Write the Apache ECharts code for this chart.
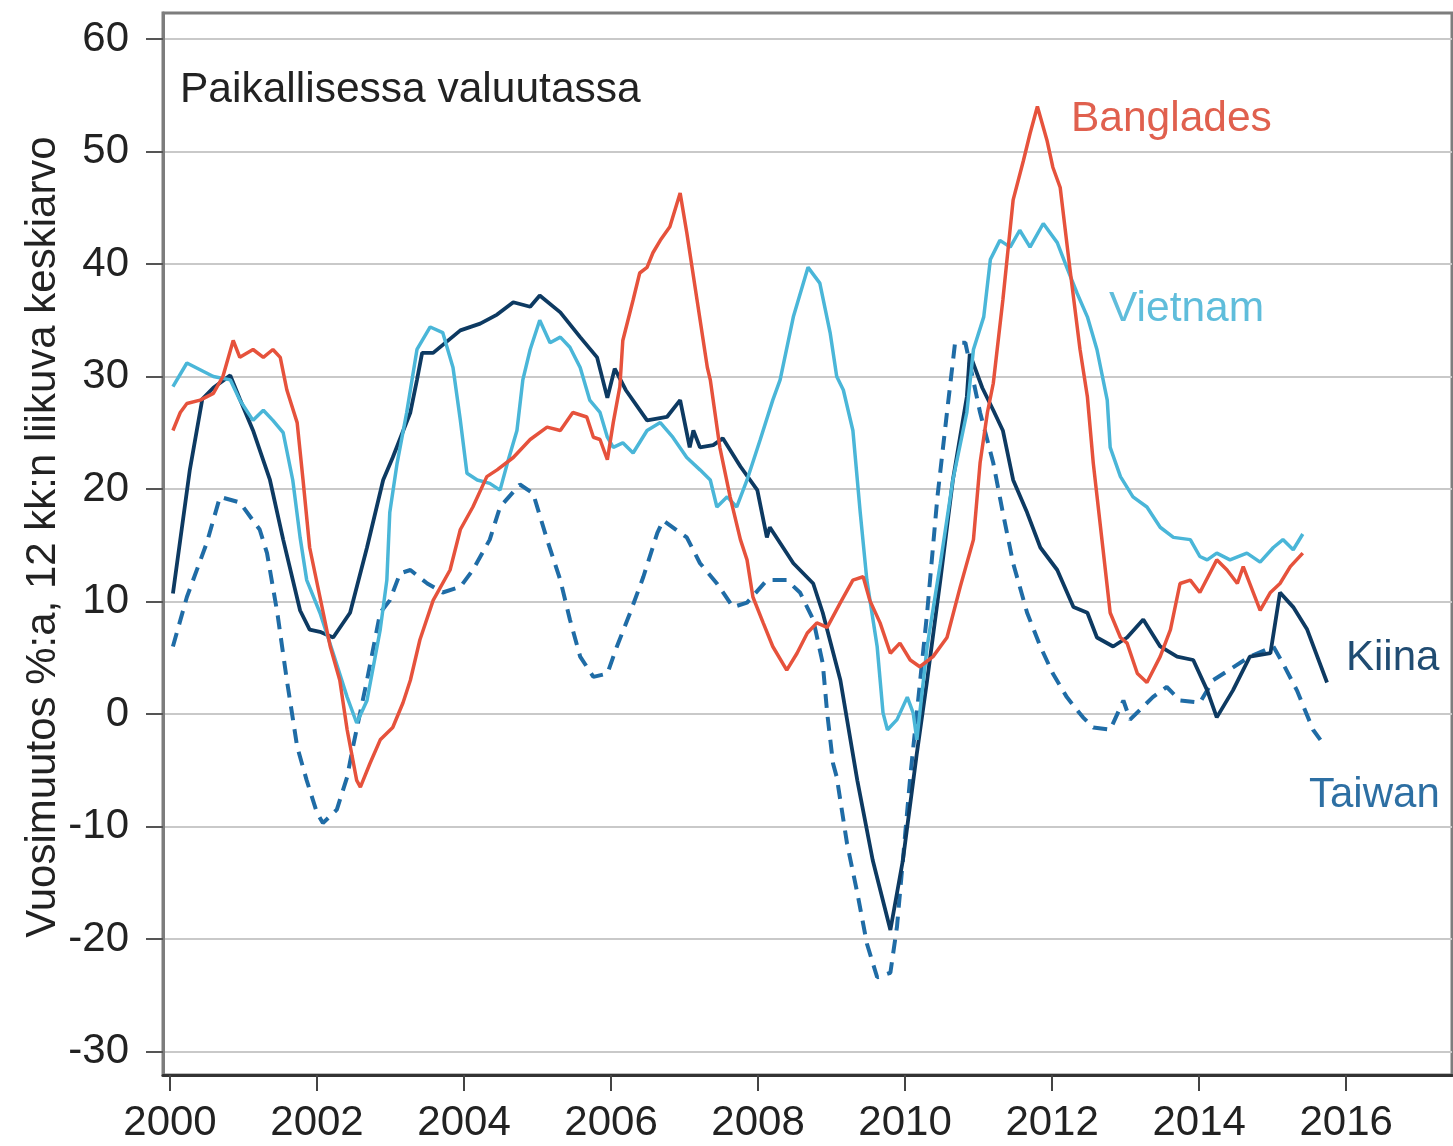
<!DOCTYPE html>
<html>
<head>
<meta charset="utf-8">
<script src="https://cdn.jsdelivr.net/npm/echarts@6/dist/echarts.min.js"></script>
<style>
html,body{margin:0;padding:0;background:#fff;}
#chart{width:1453px;height:1146px;}
</style>
</head>
<body>
<div id="chart"></div>
<script>
// ---- Data (year, % change) ----
const xTicks = [2000, 2002, 2004, 2006, 2008, 2010, 2012, 2014, 2016];
const yTicks = [-30, -20, -10, 0, 10, 20, 30, 40, 50, 60];

const kiina = [[2000.04,10.7],[2000.27,21.7],[2000.44,28.0],[2000.59,29.0],[2000.82,30.1],[2000.95,28.0],[2001.13,25.2],[2001.36,20.8],[2001.54,15.5],[2001.77,9.2],[2001.90,7.5],[2002.04,7.3],[2002.22,6.8],[2002.45,9.0],[2002.68,14.8],[2002.90,20.8],[2003.03,22.8],[2003.27,26.8],[2003.36,29.7],[2003.43,32.1],[2003.58,32.1],[2003.95,34.1],[2004.22,34.7],[2004.45,35.5],[2004.67,36.6],[2004.90,36.2],[2005.03,37.2],[2005.31,35.7],[2005.58,33.5],[2005.81,31.7],[2005.95,28.1],[2006.05,30.7],[2006.20,28.8],[2006.49,26.1],[2006.76,26.4],[2006.94,27.9],[2007.07,23.7],[2007.12,25.2],[2007.21,23.7],[2007.39,23.9],[2007.52,24.5],[2007.76,22.0],[2007.99,19.9],[2008.12,15.7],[2008.16,16.6],[2008.48,13.4],[2008.75,11.6],[2008.88,9.0],[2009.12,3.0],[2009.35,-5.9],[2009.56,-13.0],[2009.80,-19.2],[2009.97,-13.0],[2010.16,-3.5],[2010.30,3.0],[2010.48,11.9],[2010.65,20.8],[2010.84,28.2],[2010.88,32.0],[2011.05,29.0],[2011.20,27.0],[2011.33,25.2],[2011.47,20.8],[2011.66,17.9],[2011.84,14.8],[2012.07,12.8],[2012.29,9.5],[2012.48,9.0],[2012.61,6.8],[2012.83,6.0],[2013.02,6.8],[2013.24,8.4],[2013.47,6.0],[2013.70,5.1],[2013.92,4.8],[2014.11,2.1],[2014.24,-0.3],[2014.46,2.1],[2014.69,5.1],[2014.97,5.4],[2015.10,10.8],[2015.28,9.5],[2015.47,7.5],[2015.74,2.8]];

const taiwan = [[2000.04,6.0],[2000.23,10.4],[2000.50,15.2],[2000.68,19.3],[2000.95,18.8],[2001.22,16.4],[2001.32,14.3],[2001.46,9.0],[2001.59,3.0],[2001.73,-2.9],[2001.86,-5.9],[2002.00,-8.8],[2002.08,-9.7],[2002.27,-8.5],[2002.41,-5.6],[2002.49,-2.9],[2002.68,3.0],[2002.86,9.0],[2002.99,10.1],[2003.13,12.5],[2003.27,12.8],[2003.50,11.6],[2003.71,10.8],[2003.95,11.3],[2004.12,12.8],[2004.35,15.5],[2004.49,18.4],[2004.76,20.4],[2004.94,19.6],[2005.13,15.5],[2005.31,11.9],[2005.44,8.4],[2005.58,5.1],[2005.76,3.3],[2005.95,3.6],[2006.08,6.0],[2006.26,9.0],[2006.44,12.2],[2006.63,16.1],[2006.71,17.2],[2007.03,15.7],[2007.21,13.4],[2007.44,11.6],[2007.66,9.5],[2007.85,9.9],[2008.12,11.9],[2008.39,11.9],[2008.57,10.8],[2008.75,8.4],[2008.88,4.5],[2008.94,0.1],[2009.02,-4.4],[2009.07,-5.6],[2009.21,-11.5],[2009.35,-15.9],[2009.48,-20.4],[2009.62,-23.4],[2009.80,-23.0],[2009.89,-18.9],[2009.97,-13.0],[2010.07,-5.6],[2010.16,0.1],[2010.30,9.0],[2010.44,19.3],[2010.57,26.8],[2010.68,33.0],[2010.82,33.0],[2011.02,26.8],[2011.20,22.3],[2011.33,17.9],[2011.47,13.4],[2011.66,9.0],[2011.84,6.0],[2012.01,3.6],[2012.20,1.5],[2012.42,-0.3],[2012.56,-1.2],[2012.79,-1.4],[2012.97,1.2],[2013.06,-0.5],[2013.37,1.5],[2013.56,2.4],[2013.74,1.2],[2014.01,1.0],[2014.19,3.0],[2014.69,5.1],[2015.01,6.0],[2015.14,4.5],[2015.33,2.1],[2015.55,-1.4],[2015.65,-2.3]];

const vietnam = [[2000.04,29.1],[2000.23,31.2],[2000.41,30.6],[2000.59,30.0],[2000.82,29.7],[2000.95,27.9],[2001.13,26.1],[2001.27,27.0],[2001.40,26.1],[2001.54,25.0],[2001.67,20.8],[2001.77,15.7],[2001.86,11.9],[2002.04,9.0],[2002.22,5.4],[2002.41,1.5],[2002.54,-0.8],[2002.68,1.2],[2002.86,7.5],[2002.95,11.9],[2002.99,17.9],[2003.09,22.3],[2003.22,26.8],[2003.36,32.4],[2003.54,34.4],[2003.71,33.9],[2003.85,30.8],[2003.95,26.1],[2004.04,21.4],[2004.18,20.8],[2004.35,20.5],[2004.49,19.9],[2004.59,22.3],[2004.72,25.2],[2004.80,29.7],[2004.90,32.4],[2005.03,35.0],[2005.17,33.0],[2005.31,33.5],[2005.44,32.6],[2005.58,30.8],[2005.71,27.9],[2005.85,26.8],[2005.95,24.6],[2006.03,23.7],[2006.16,24.1],[2006.30,23.2],[2006.49,25.2],[2006.67,25.9],[2006.84,24.6],[2007.03,22.8],[2007.21,21.7],[2007.35,20.8],[2007.44,18.4],[2007.58,19.3],[2007.71,18.4],[2007.85,20.8],[2008.03,24.4],[2008.20,27.9],[2008.30,29.7],[2008.48,35.3],[2008.68,39.7],[2008.84,38.3],[2008.98,33.9],[2009.07,30.0],[2009.16,28.8],[2009.29,25.2],[2009.39,17.9],[2009.48,11.9],[2009.62,6.0],[2009.70,0.1],[2009.76,-1.4],[2009.89,-0.5],[2010.03,1.5],[2010.11,0.1],[2010.16,-2.3],[2010.30,6.0],[2010.48,13.4],[2010.65,20.8],[2010.84,26.8],[2010.93,32.4],[2011.07,35.3],[2011.16,40.4],[2011.29,42.1],[2011.43,41.5],[2011.56,43.0],[2011.70,41.5],[2011.88,43.6],[2012.07,41.9],[2012.20,39.7],[2012.34,37.4],[2012.48,35.3],[2012.61,32.4],[2012.75,27.9],[2012.79,23.7],[2012.93,21.1],[2013.10,19.3],[2013.29,18.4],[2013.47,16.6],[2013.65,15.7],[2013.88,15.5],[2014.01,14.0],[2014.11,13.7],[2014.24,14.3],[2014.42,13.7],[2014.65,14.3],[2014.83,13.5],[2015.01,14.8],[2015.14,15.5],[2015.28,14.6],[2015.41,16.0]];

const banglades = [[2000.04,25.2],[2000.14,26.8],[2000.23,27.6],[2000.41,27.9],[2000.59,28.5],[2000.72,30.0],[2000.86,33.2],[2000.95,31.7],[2001.13,32.4],[2001.27,31.7],[2001.40,32.4],[2001.50,31.7],[2001.59,28.8],[2001.73,25.9],[2001.81,20.8],[2001.90,14.8],[2002.04,10.4],[2002.18,6.0],[2002.31,3.0],[2002.41,-1.4],[2002.54,-5.9],[2002.59,-6.5],[2002.72,-4.4],[2002.86,-2.3],[2003.03,-1.2],[2003.17,1.0],[2003.27,3.0],[2003.40,6.6],[2003.58,10.1],[2003.81,12.8],[2003.95,16.4],[2004.12,18.4],[2004.31,21.1],[2004.45,21.7],[2004.67,22.8],[2004.90,24.4],[2005.13,25.5],[2005.31,25.2],[2005.48,26.8],[2005.67,26.4],[2005.76,24.6],[2005.85,24.4],[2005.95,22.6],[2006.03,25.9],[2006.12,29.1],[2006.16,33.2],[2006.30,36.8],[2006.39,39.2],[2006.49,39.7],[2006.57,41.0],[2006.67,42.1],[2006.80,43.3],[2006.94,46.3],[2007.03,42.8],[2007.17,36.8],[2007.31,30.8],[2007.35,29.7],[2007.48,23.7],[2007.62,19.3],[2007.76,15.5],[2007.85,13.7],[2007.93,10.4],[2008.07,8.1],[2008.20,6.0],[2008.39,3.9],[2008.53,5.4],[2008.67,7.2],[2008.80,8.1],[2008.94,7.7],[2009.12,9.9],[2009.29,11.9],[2009.43,12.2],[2009.52,10.1],[2009.66,8.1],[2009.80,5.4],[2009.93,6.3],[2010.07,4.8],[2010.20,4.2],[2010.38,5.1],[2010.57,6.8],[2010.75,11.3],[2010.93,15.5],[2011.02,22.3],[2011.12,26.8],[2011.20,29.4],[2011.33,36.8],[2011.47,45.7],[2011.61,49.2],[2011.70,51.6],[2011.80,54.0],[2011.93,51.0],[2012.01,48.6],[2012.11,46.8],[2012.24,39.7],[2012.38,32.4],[2012.48,28.2],[2012.56,22.3],[2012.69,14.8],[2012.79,9.0],[2012.93,6.8],[2013.02,6.3],[2013.16,3.6],[2013.29,2.8],[2013.47,5.1],[2013.61,7.5],[2013.74,11.6],[2013.88,11.9],[2014.01,10.8],[2014.24,13.7],[2014.38,12.8],[2014.52,11.6],[2014.60,13.1],[2014.83,9.2],[2014.97,10.8],[2015.10,11.6],[2015.24,13.1],[2015.41,14.3]];

const names = { kiina: 'Kiina', taiwan: 'Taiwan', vietnam: 'Vietnam', banglades: 'Banglades' };
const subtitle = 'Paikallisessa valuutassa';
const yTitle = 'Vuosimuutos %:a, 12 kk:n liikuva keskiarvo';

// ---- Styles ----
const C = { kiina: '#0d3a62', taiwan: '#1f6ca6', vietnam: '#4ab6d8', banglades: '#e6523c' };
const FONT = 'Liberation Sans, Arial, sans-serif';

const chart = echarts.init(document.getElementById('chart'));
chart.setOption({
  animation: false,
  backgroundColor: '#fff',
  grid: { left: 163, right: 1, top: 13, bottom: 71, show: true, borderColor: '#7d7d7d', borderWidth: 3, outerBoundsMode: 'none', containLabel: false },
  xAxis: {
    type: 'value', min: 1999.905, max: 2017.44,
    axisLine: { show: true, onZero: false, lineStyle: { color: '#333', width: 3 } },
    axisTick: { show: true, customValues: xTicks, length: 16, lineStyle: { color: '#444', width: 2 } },
    axisLabel: { customValues: xTicks, fontSize: 42, fontFamily: FONT, color: '#222', margin: 27, formatter: v => String(Math.round(v)) },
    splitLine: { show: false }
  },
  yAxis: {
    type: 'value', min: -32.09, max: 62.31,
    axisLine: { show: true, onZero: false, lineStyle: { color: '#7d7d7d', width: 3 } },
    axisTick: { show: true, customValues: yTicks, length: 17, lineStyle: { color: '#555', width: 2 } },
    axisLabel: { customValues: yTicks, fontSize: 42, fontFamily: FONT, color: '#222', margin: 34, formatter: v => String(Math.round(v)) },
    splitLine: { show: true, lineStyle: { color: '#c9c9c9', width: 2 } }
  },
  series: [
    { name: names.taiwan, type: 'line', data: taiwan, showSymbol: false, symbol: 'none', lineStyle: { color: C.taiwan, width: 4, type: [14, 9] }, z: 2 },
    { name: names.kiina, type: 'line', data: kiina, showSymbol: false, symbol: 'none', lineStyle: { color: C.kiina, width: 3.8 }, z: 3 },
    { name: names.vietnam, type: 'line', data: vietnam, showSymbol: false, symbol: 'none', lineStyle: { color: C.vietnam, width: 3.5 }, z: 4 },
    { name: names.banglades, type: 'line', data: banglades, showSymbol: false, symbol: 'none', lineStyle: { color: C.banglades, width: 3.5 }, z: 5 }
  ],
  graphic: [
    { type: 'text', left: 180, top: 69, style: { text: subtitle, fontSize: 42.5, fontFamily: FONT, fill: '#222' } },
    { type: 'text', left: 1071, top: 98, style: { text: names.banglades, fontSize: 42.5, fontFamily: FONT, fill: '#e0604e' } },
    { type: 'text', left: 1109, top: 288, style: { text: names.vietnam, fontSize: 42.5, fontFamily: FONT, fill: '#5fbddb' } },
    { type: 'text', left: 1346, top: 637, style: { text: names.kiina, fontSize: 42, fontFamily: FONT, fill: '#204c72' } },
    { type: 'text', left: 1309, top: 774, style: { text: names.taiwan, fontSize: 42, fontFamily: FONT, fill: '#2d6fa3' } },
    { type: 'text', x: 43, y: 537, rotation: Math.PI / 2, style: { text: yTitle, fontSize: 42, fontFamily: FONT, fill: '#222', align: 'center', verticalAlign: 'middle' } }
  ]
});
</script>
</body>
</html>
